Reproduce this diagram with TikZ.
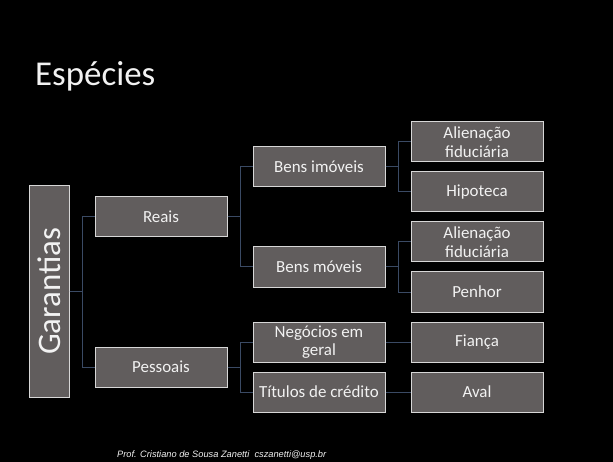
\documentclass[tikz,border=0pt]{standalone}
\usepackage{fontspec}
\setmainfont{Carlito}
\newfontfamily\footfont{Liberation Sans}
\definecolor{boxfill}{RGB}{97,93,93}
\definecolor{boxline}{RGB}{215,215,215}
\definecolor{connline}{RGB}{58,74,100}
\definecolor{txt}{RGB}{242,242,242}
\begin{document}
\begin{tikzpicture}[x=1bp,y=-1bp,
  box/.style={draw=boxline, fill=boxfill, line width=1bp, text=txt, inner sep=1bp,
    minimum width=132bp, minimum height=40bp, align=center,
    font=\fontsize{17}{18.5}\selectfont},
  conn/.style={draw=connline, line width=1bp}]
\fill[black] (0,0) rectangle (613,462);
\useasboundingbox (0,0) rectangle (613,462);
\node[anchor=base west, text=txt, inner sep=0, font=\fontsize{35}{40}\selectfont] (title) at (35,86) {Espécies};
\node[box, rotate=90, minimum width=211bp, minimum height=40bp, font=\fontsize{33}{36}\selectfont] (g) at (49,291.5) {Garantias};
\node[box] (reais) at (161,217) {Reais};
\node[box] (pess) at (161,367) {Pessoais};
\node[box] (bi) at (319,167) {Bens imóveis};
\node[box] (bm) at (319,267) {Bens móveis};
\node[box] (ng) at (319,342) {Negócios em\\geral};
\node[box] (tc) at (319,392) {Títulos de crédito};
\node[box] (af1) at (477,142) {Alienação\\fiduciária};
\node[box] (hip) at (477,192) {Hipoteca};
\node[box] (af2) at (477,242) {Alienação\\fiduciária};
\node[box] (pen) at (477,292) {Penhor};
\node[box] (fia) at (477,342) {Fiança};
\node[box] (aval) at (477,392) {Aval};
\draw[conn] (g.south) -- ++(13,0) |- (reais.west);
\draw[conn] (g.south) -- ++(13,0) |- (pess.west);
\draw[conn] (reais.east) -- ++(13,0) |- (bi.west);
\draw[conn] (reais.east) -- ++(13,0) |- (bm.west);
\draw[conn] (pess.east) -- ++(13,0) |- (ng.west);
\draw[conn] (pess.east) -- ++(13,0) |- (tc.west);
\draw[conn] (bi.east) -- ++(13,0) |- (af1.west);
\draw[conn] (bi.east) -- ++(13,0) |- (hip.west);
\draw[conn] (bm.east) -- ++(13,0) |- (af2.west);
\draw[conn] (bm.east) -- ++(13,0) |- (pen.west);
\draw[conn] (ng.east) -- (fia.west);
\draw[conn] (tc.east) -- (aval.west);
\node[anchor=west, inner sep=0, text=txt, font=\footfont\itshape\fontsize{9.3}{11}\selectfont] (foot) at (117,455) {Prof. Cristiano de Sousa Zanetti\ \ cszanetti@usp.br};
\end{tikzpicture}
\end{document}
